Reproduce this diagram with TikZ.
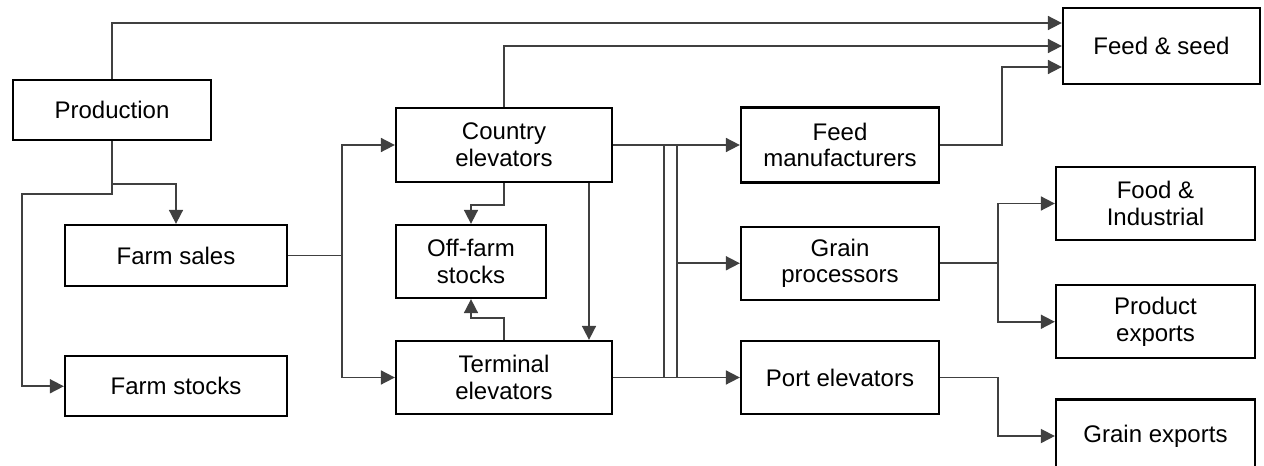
\documentclass[tikz,border=0pt]{standalone}
\usepackage{fontspec}
\setmainfont{Liberation Sans}
\usepackage{tikz}
\usetikzlibrary{
    arrows.meta,
    positioning
}

\begin{document}
\begin{tikzpicture}[
x=0.75pt, y=-0.75pt,
box/.style={
draw=black,
line width=1.7pt,
align=center,
inner sep=0pt,
font=\fontsize{18}{20}\selectfont
},
link/.style={
draw=black!75,
line width=1.3pt
},
arr/.style={
link,
-{Triangle[length=10.5pt,width=10.5pt]}
}
]

\useasboundingbox (0,0) rectangle (1264,466);

% sources
\node[box, minimum width=148.5pt, minimum height=45pt] (prod)
at (112,110) {Production};

\node[box, minimum width=166.5pt, minimum height=45.75pt] (farmsales)
at (176,255.5) {Farm sales};

\node[box, minimum width=166.5pt, minimum height=45pt,
below=51pt of farmsales] (farmstocks)
{Farm stocks};

% elevators
\node[box, minimum width=162pt, minimum height=55.5pt] (country)
at (504,145) {Country\\elevators};

\node[box, minimum width=112.5pt, minimum height=54.75pt] (offfarm)
at (471,261.5) {Off-farm\\stocks};

\node[box, minimum width=162pt, minimum height=54.75pt] (terminal)
at (504,377.5) {Terminal\\elevators};

% users
\node[box, minimum width=148.5pt, minimum height=56.25pt] (feedmfr)
at (840,145) {Feed\\manufacturers};

\node[box, minimum width=148.5pt, minimum height=54.75pt,
below=31.5pt of feedmfr] (grainproc)
{Grain\\processors};

\node[box, minimum width=148.5pt, minimum height=54.75pt] (port)
at (840,377.5) {Port elevators};

% end uses
\node[box, minimum width=147.75pt, minimum height=57pt] (feedseed)
at (1161.5,46) {Feed \& seed};

\node[box, minimum width=149.25pt, minimum height=54.75pt] (foodind)
at (1155.5,203.5) {Food \&\\Industrial};

\node[box, minimum width=149.25pt, minimum height=54.75pt,
below=32.25pt of foodind] (prodexp)
{Product\\exports};

\node[box, minimum width=149.25pt, minimum height=54.75pt,
below=29.25pt of prodexp] (grainexp)
{Grain exports};

% to feed & seed
\draw[arr] (prod.north) |- ([yshift=17.25pt]feedseed.west);
\draw[arr] (country.north) |- (feedseed.west);
\draw[arr] (feedmfr.east) -- ++(62,0) |- ([yshift=-15.75pt]feedseed.west);

% production split
\draw[arr] (prod.south) |- ++(-90,53) |- (farmstocks.west);
\draw[arr] (prod.south) ++(0,43) -| (farmsales.north);

% farm sales split
\draw[link] (farmsales.east) -- ++(54,0) coordinate (fsj);
\draw[arr] (fsj) |- (country.west);
\draw[arr] (fsj) |- (terminal.west);

% elevators and stocks
\draw[arr] (country.south) -- ++(0,22) -| (offfarm.north);
\draw[arr] (terminal.north) -- ++(0,-22) -| (offfarm.south);
\draw[arr] ([xshift=63.75pt]country.south) -- ([xshift=63.75pt]terminal.north);

% elevators to users
\coordinate (busa) at (664,0);
\coordinate (busb) at (677,0);
\draw[arr] (country.east) -- (feedmfr.west);
\draw[arr] (terminal.east) -- (port.west);
\draw[link] (busa |- country.east) -- (busa |- terminal.east);
\draw[link] (busb |- country.east) -- (busb |- terminal.east);
\draw[arr] (busb |- grainproc.west) -- (grainproc.west);

% processors and ports
\draw[link] (grainproc.east) -- ++(58,0) coordinate (gpj);
\draw[arr] (gpj) |- (foodind.west);
\draw[arr] (gpj) |- (prodexp.west);
\draw[arr] (port.east) -- ++(58,0) |- (grainexp.west);

\end{tikzpicture}
\end{document}
